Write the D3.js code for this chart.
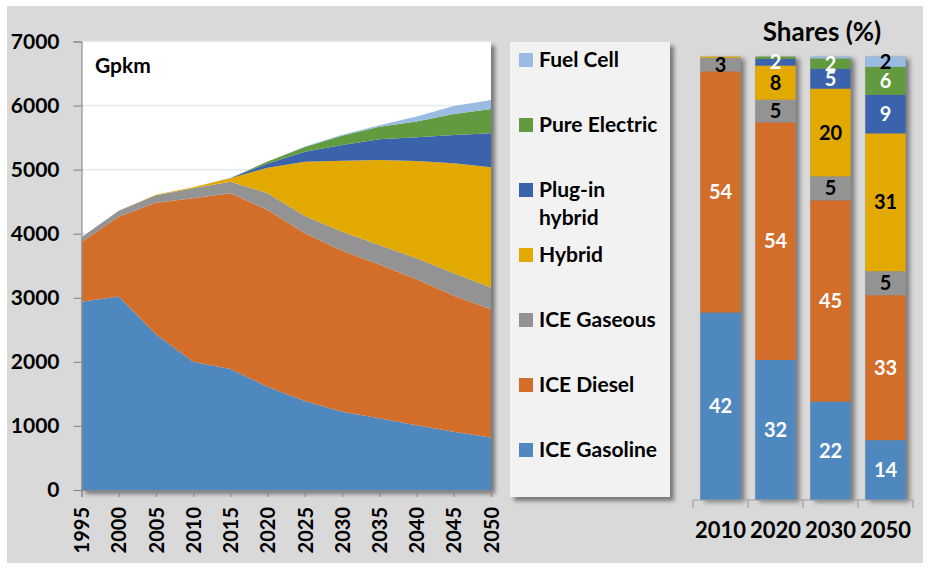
<!DOCTYPE html>
<html><head><meta charset="utf-8">
<script src="https://cdn.jsdelivr.net/npm/d3@7"></script>
<style>
html,body{margin:0;padding:0;background:#fff;}
svg{display:block;font-family:Lato,"Open Sans",sans-serif;font-weight:700;}
</style></head>
<body>
<svg id="chart" width="930" height="570"></svg>
<script>
// ---- data ----
const years = [1995,2000,2005,2010,2015,2020,2025,2030,2035,2040,2045,2050];
const gasoline = [2940,3020,2430,2000,1890,1610,1390,1220,1120,1010,910,820];
const diesel   = [930,1246,2054,2555,2741,2760,2616,2515,2400,2280,2120,2000];
const gaseous  = [74,94,116,154,181,261,271,297,304,326,352,340];
const hybrid   = [0,0,10,15,53,400,848,1108,1326,1519,1718,1877];
const plugin   = [0,0,0,0,3,65,155,245,324,370,441,531];
const electric = [0,0,0,0,2,30,75,145,196,245,329,379];
const fuelcell = [0,0,0,0,0,0,5,15,23,80,123,141];
const yTicks = [0,1000,2000,3000,4000,5000,6000,7000];

const seriesNames = ["ICE Gasoline","ICE Diesel","ICE Gaseous","Hybrid","Plug-in hybrid","Pure Electric","Fuel Cell"];
const seriesColors = ["#4f88be","#d36d2a","#939393","#e2a900","#3b63ab","#629a3f","#9abce2"];
const labelColors = ["#fff","#fff","#000","#000","#fff","#fff","#000"];

const barYears = ["2010","2020","2030","2050"];
const shareGasoline = [42.3,31.6,22.2,13.5];
const shareDiesel   = [54.4,53.6,45.4,32.7];
const shareGaseous  = [3.0,5.1,5.4,5.4];
const shareHybrid   = [0.3,7.7,19.8,31.1];
const sharePlugin   = [0,1.5,4.5,8.7];
const shareElectric = [0,0.5,2.3,6.3];
const shareFuel     = [0,0,0.4,2.3];

const seriesValues = [gasoline,diesel,gaseous,hybrid,plugin,electric,fuelcell];
const shareValues = [shareGasoline,shareDiesel,shareGaseous,shareHybrid,sharePlugin,shareElectric,shareFuel];

// ---- drawing ----
const svg = d3.select("#chart");
const defs = svg.append("defs");
const f1 = defs.append("filter").attr("id","shadow").attr("x","-10%").attr("y","-10%").attr("width","130%").attr("height","130%");
f1.append("feDropShadow").attr("dx",4).attr("dy",4).attr("stdDeviation",2.2).attr("flood-color","#000").attr("flood-opacity",0.45);
const f2 = defs.append("filter").attr("id","barshadow").attr("x","-20%").attr("y","-5%").attr("width","150%").attr("height","115%");
f2.append("feDropShadow").attr("dx",4).attr("dy",2).attr("stdDeviation",2.5).attr("flood-color","#000").attr("flood-opacity",0.45);

// outer background
svg.append("rect").attr("x",7).attr("y",6).attr("width",916).attr("height",557).attr("fill","#d9d9d9");

// ---- area chart ----
const x = d3.scaleLinear().domain([1995,2050]).range([81.5,491]);
const y = d3.scaleLinear().domain([0,7000]).range([490,41.5]);

svg.append("rect").attr("x",x(1995)).attr("y",y(7000)).attr("width",x(2050)-x(1995)).attr("height",y(0)-y(7000))
  .attr("fill","#fff").attr("filter","url(#shadow)");

svg.append("g").selectAll("line").data(yTicks.filter(d=>d>0)).join("line")
  .attr("x1",x(1995)).attr("x2",x(2050)).attr("y1",d=>y(d)).attr("y2",d=>y(d))
  .attr("stroke","#e3eaf3").attr("stroke-width",1.5);

const table = years.map((yr,i)=>{
  const o = {year:yr};
  seriesNames.forEach((n,k)=>o[n]=seriesValues[k][i]);
  return o;
});
const stacked = d3.stack().keys(seriesNames)(table);
const area = d3.area().x(d=>x(d.data.year)).y0(d=>y(d[0])).y1(d=>y(d[1]));
svg.append("g").selectAll("path").data(stacked).join("path")
  .attr("d",area).attr("fill",(d,i)=>seriesColors[i]);

// axes
const yAxis = svg.append("g").attr("transform",`translate(${x(1995)},0)`)
  .call(d3.axisLeft(y).tickValues(yTicks).tickSize(8).tickPadding(14).tickFormat(d3.format("d")));
yAxis.select(".domain").attr("stroke","#8c8c8c").attr("stroke-width",1.2);
yAxis.selectAll(".tick line").attr("stroke","#8c8c8c").attr("stroke-width",1.2);
yAxis.selectAll("text").attr("font-size",21).attr("font-family","Lato").attr("font-weight",700).attr("fill","#000");

const xAxis = svg.append("g").attr("transform",`translate(0,${y(0)})`)
  .call(d3.axisBottom(x).tickValues(years).tickSize(7).tickFormat(d3.format("d")));
xAxis.select(".domain").attr("stroke","#8c8c8c").attr("stroke-width",1.2);
xAxis.selectAll(".tick line").attr("stroke","#8c8c8c").attr("stroke-width",1.2);
xAxis.selectAll("text").attr("font-size",20).attr("font-family","Lato").attr("font-weight",700).attr("fill","#000")
  .attr("transform","rotate(-90)").attr("text-anchor","end").attr("x",-17).attr("y",0).attr("dy","0.36em");

svg.append("text").attr("x",95).attr("y",73).attr("font-size",21).text("Gpkm");

// ---- legend ----
svg.append("rect").attr("x",510).attr("y",42).attr("width",160).attr("height",455)
  .attr("fill","#f2f2f2").attr("filter","url(#shadow)");
const legendOrder = seriesNames.map((n,i)=>i).reverse();
const leg = svg.append("g").selectAll("g").data(legendOrder).join("g")
  .attr("transform",(d,j)=>`translate(519,${60+j*65})`);
leg.append("rect").attr("x",0).attr("y",-7).attr("width",14).attr("height",14).attr("fill",d=>seriesColors[d]);
leg.each(function(d){
  const g = d3.select(this);
  const name = seriesNames[d];
  if (name==="Plug-in hybrid") {
    const t = g.append("text").attr("x",20).attr("y",7).attr("font-size",21);
    t.append("tspan").attr("x",20).text("Plug-in");
    t.append("tspan").attr("x",20).attr("dy",28).text("hybrid");
  } else {
    g.append("text").attr("x",20).attr("y",7).attr("font-size",21).text(name);
  }
});

// ---- share bars ----
const xb = d3.scaleBand().domain(barYears).range([693,913]).paddingInner(0.27).paddingOuter(0.135);
const yb = d3.scaleLinear().domain([0,100]).range([500,56.7]);
const barTable = barYears.map((yr,i)=>{
  const o = {year:yr};
  seriesNames.forEach((n,k)=>o[n]=shareValues[k][i]);
  return o;
});
const barStack = d3.stack().keys(seriesNames)(barTable);

const barG = svg.append("g");
barG.selectAll("rect.shadow").data(barTable).join("rect").attr("class","shadow")
  .attr("x",d=>xb(d.year)).attr("width",xb.bandwidth())
  .attr("y",d=>yb(d3.sum(seriesNames,n=>d[n]))).attr("height",d=>yb(0)-yb(d3.sum(seriesNames,n=>d[n])))
  .attr("fill","#888").attr("filter","url(#barshadow)");
barStack.forEach((s,k)=>{
  barG.selectAll(null).data(s).join("rect")
    .attr("x",d=>xb(d.data.year)).attr("width",xb.bandwidth())
    .attr("y",d=>yb(d[1])).attr("height",d=>Math.max(0,yb(d[0])-yb(d[1])))
    .attr("fill",seriesColors[k]);
});
barStack.forEach((s,k)=>{
  barG.selectAll(null).data(s.filter(d=>d[1]-d[0]>=1.5)).join("text")
    .attr("x",d=>xb(d.data.year)+xb.bandwidth()/2).attr("y",d=>(yb(d[0])+yb(d[1]))/2)
    .attr("dy","0.35em").attr("text-anchor","middle").attr("font-size",20)
    .attr("fill",labelColors[k]).text(d=>Math.round(d[1]-d[0]));
});

const bAxis = svg.append("g").attr("transform",`translate(0,${yb(0)})`);
bAxis.append("line").attr("x1",693).attr("x2",913).attr("stroke","#a0a0a0").attr("stroke-width",1.2);
const edges = barYears.map(d=>xb(d)-xb.step()*xb.paddingInner()/2).concat([913]);
bAxis.selectAll("line.t").data(edges).join("line").attr("class","t")
  .attr("x1",d=>d).attr("x2",d=>d).attr("y1",0).attr("y2",8).attr("stroke","#a0a0a0").attr("stroke-width",1.2);
bAxis.selectAll("text").data(barYears).join("text")
  .attr("x",d=>xb(d)+xb.bandwidth()/2).attr("y",38).attr("text-anchor","middle").attr("font-size",22).text(d=>d);

svg.append("text").attr("x",822).attr("y",41).attr("text-anchor","middle").attr("font-size",26).text("Shares (%)");
</script>
</body></html>
